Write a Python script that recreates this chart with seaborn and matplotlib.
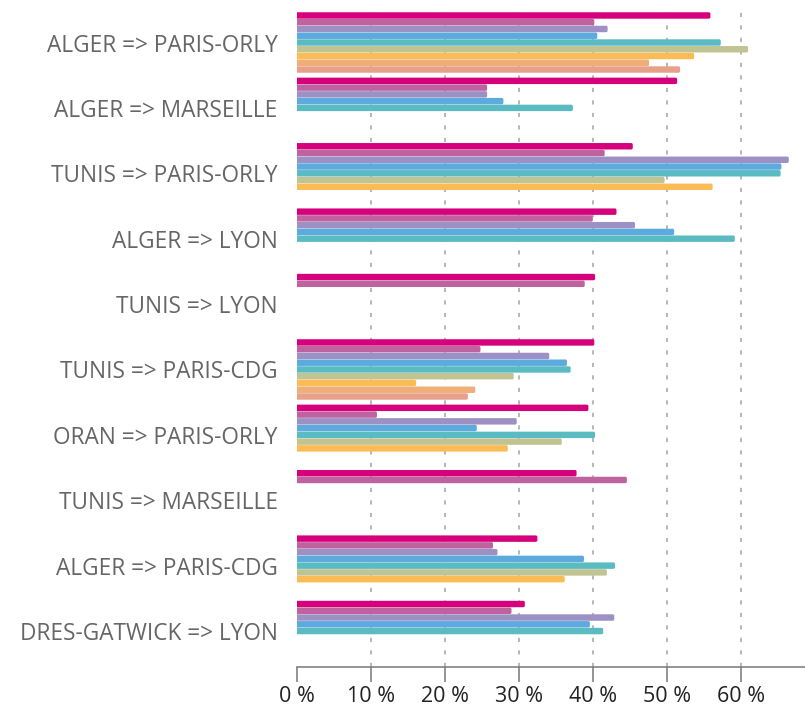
import numpy as np
import pandas as pd
import matplotlib.pyplot as plt
import seaborn as sns

routes = [
    "ALGER => PARIS-ORLY",
    "ALGER => MARSEILLE",
    "TUNIS => PARIS-ORLY",
    "ALGER => LYON",
    "TUNIS => LYON",
    "TUNIS => PARIS-CDG",
    "ORAN => PARIS-ORLY",
    "TUNIS => MARSEILLE",
    "ALGER => PARIS-CDG",
    "DRES-GATWICK => LYON",
]

nan = np.nan
# one list per series (hue level), one value per route, in %
serie_1 = [55.7, 51.2, 45.2, 43.0, 40.1, 40.0, 39.2, 37.6, 32.3, 30.6]
serie_2 = [40.0, 25.5, 41.4, 39.8, 38.7, 24.6, 10.6, 44.4, 26.3, 28.8]
serie_3 = [41.8, 25.5, 66.3, 45.5, nan, 33.9, 29.5, nan, 26.9, 42.7]
serie_4 = [40.4, 27.7, 65.3, 50.8, nan, 36.3, 24.1, nan, 38.6, 39.4]
serie_5 = [57.1, 37.1, 65.2, 59.0, nan, 36.8, 40.1, nan, 42.8, 41.2]
serie_6 = [60.8, nan, 49.5, nan, nan, 29.1, 35.6, nan, 41.7, nan]
serie_7 = [53.5, nan, 56.0, nan, nan, 15.9, 28.3, nan, 36.0, nan]
serie_8 = [47.4, nan, nan, nan, nan, 23.9, nan, nan, nan, nan]
serie_9 = [51.6, nan, nan, nan, nan, 22.9, nan, nan, nan, nan]

series_names = ["S1", "S2", "S3", "S4", "S5", "S6", "S7", "S8", "S9"]
colors = ["#D6007D", "#BF62A0", "#9D90C4", "#5DAADF", "#5ABCC2",
          "#C0C492", "#FBBB55", "#EFAD78", "#E7A08A"]

all_series = [serie_1, serie_2, serie_3, serie_4, serie_5,
              serie_6, serie_7, serie_8, serie_9]
rows = []
for name, vals in zip(series_names, all_series):
    for route, v in zip(routes, vals):
        rows.append({"route": route, "serie": name, "value": v})
df = pd.DataFrame(rows)

sns.set_style("white")
plt.rcParams["font.family"] = ["Open Sans", "DejaVu Sans"]

fig = plt.figure(figsize=(8.05, 7.13), dpi=100)
ax = fig.add_axes([0.369, 0.0645, 0.631, 0.9245])

sns.barplot(data=df, x="value", y="route", hue="serie", order=routes,
            hue_order=series_names, palette=colors, saturation=1,
            orient="h", width=0.93, gap=0.5, legend=False, ax=ax)

# round the bar ends
for bar in ax.patches:
    bar.set_edgecolor(bar.get_facecolor())
    bar.set_linewidth(2.2)
    bar.set_joinstyle("round")
    bar.set_snap(False)

ax.set_xlim(0, 68.7)
ax.set_ylim(9.55, -0.53)
ax.set_xticks(range(0, 70, 10))
ax.set_xticklabels([f"{t} %" for t in range(0, 70, 10)])
ax.set_xlabel("")
ax.set_ylabel("")

ax.set_axisbelow(True)
ax.xaxis.grid(True, color="#AAAAAA", linestyle=(0, (2.5, 5)), linewidth=1.2)
ax.xaxis.get_gridlines()[0].set_visible(False)
ax.yaxis.grid(False)

for side in ["top", "right", "left"]:
    ax.spines[side].set_visible(False)
ax.spines["bottom"].set_color("#777777")
ax.spines["bottom"].set_linewidth(1.1)

ax.tick_params(axis="x", length=11, width=1.1, color="#777777",
               labelsize=15.5, labelcolor="#222222", pad=3, bottom=True)
ax.tick_params(axis="y", length=0, labelsize=16.3, labelcolor="#666666", pad=14)

fig.savefig("out.png", dpi=100)
